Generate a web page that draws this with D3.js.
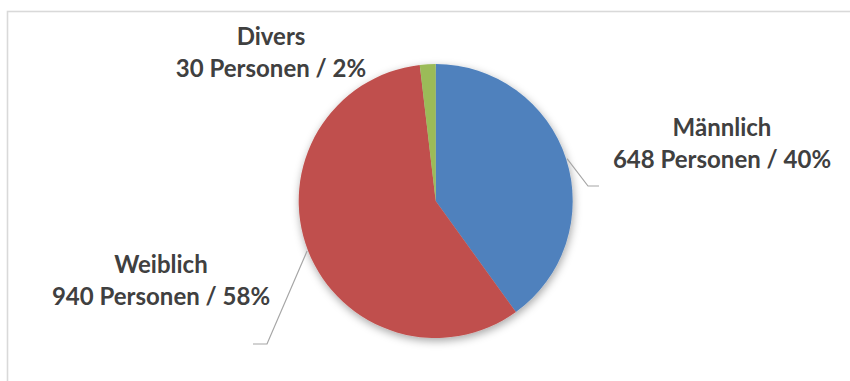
<!DOCTYPE html>
<html lang="de">
<head>
<meta charset="UTF-8">
<title>Geschlecht</title>
<script src="https://d3js.org/d3.v7.min.js"></script>
<style>
  body { margin: 0; background: #fff; }
  .label { font-family: Lato, "Open Sans", sans-serif; font-weight: bold; font-size: 24px; fill: #404040; text-anchor: middle; }
  .leader { fill: none; stroke: #a6a6a6; stroke-width: 1.2; }
</style>
</head>
<body>
<div id="chart"></div>
<script>
  // data
  const categories = ["Männlich", "Weiblich", "Divers"];
  const counts = [648, 940, 30];
  const colors = ["#4f81bd", "#c0504d", "#9bbb59"];

  const width = 850, height = 381;
  const cx = 435.7, cy = 201, radius = 137;

  // label layout: centre x, baseline of first line, optional leader elbow / end
  const labelPos = [
    { x: 722, y: 136, elbow: [588, 186], end: [599, 186] },
    { x: 161, y: 273, elbow: [267, 344], end: [253, 344] },
    { x: 271, y: 45, elbow: null, end: null }
  ];

  const svg = d3.select("#chart").append("svg")
    .attr("width", width)
    .attr("height", height);

  // chart frame (cropped on the right and bottom)
  svg.append("rect")
    .attr("x", 7.5).attr("y", 11.5)
    .attr("width", width + 20).attr("height", height + 20)
    .attr("fill", "#fff")
    .attr("stroke", "#d9d9d9")
    .attr("stroke-width", 1.6);

  const defs = svg.append("defs");
  defs.append("filter")
    .attr("id", "shadow")
    .attr("x", "-20%").attr("y", "-20%")
    .attr("width", "140%").attr("height", "140%")
    .append("feDropShadow")
    .attr("dx", 1).attr("dy", 3)
    .attr("stdDeviation", 4)
    .attr("flood-color", "#000")
    .attr("flood-opacity", 0.35);

  const total = d3.sum(counts);
  const pie = d3.pie().sort(null).value(d => d);
  const arcs = pie(counts);
  const arc = d3.arc().innerRadius(0).outerRadius(radius);

  const g = svg.append("g").attr("transform", `translate(${cx},${cy})`);

  g.append("g")
    .attr("filter", "url(#shadow)")
    .selectAll("path")
    .data(arcs)
    .join("path")
    .attr("d", arc)
    .attr("fill", (d, i) => colors[i]);

  // leader lines
  arcs.forEach((a, i) => {
    const p = labelPos[i];
    if (!p.elbow) return;
    const mid = (a.startAngle + a.endAngle) / 2;
    const sx = cx + (radius + 1) * Math.sin(mid);
    const sy = cy - (radius + 1) * Math.cos(mid);
    svg.append("path")
      .attr("class", "leader")
      .attr("d", d3.line()([[sx, sy], p.elbow, p.end]));
  });

  // labels
  categories.forEach((c, i) => {
    const p = labelPos[i];
    const pct = Math.round(counts[i] / total * 100);
    const t = svg.append("text").attr("class", "label");
    t.append("tspan").attr("x", p.x).attr("y", p.y).text(c);
    t.append("tspan").attr("x", p.x).attr("y", p.y + 32)
      .text(`${counts[i]} Personen / ${pct}%`);
  });
</script>
</body>
</html>
